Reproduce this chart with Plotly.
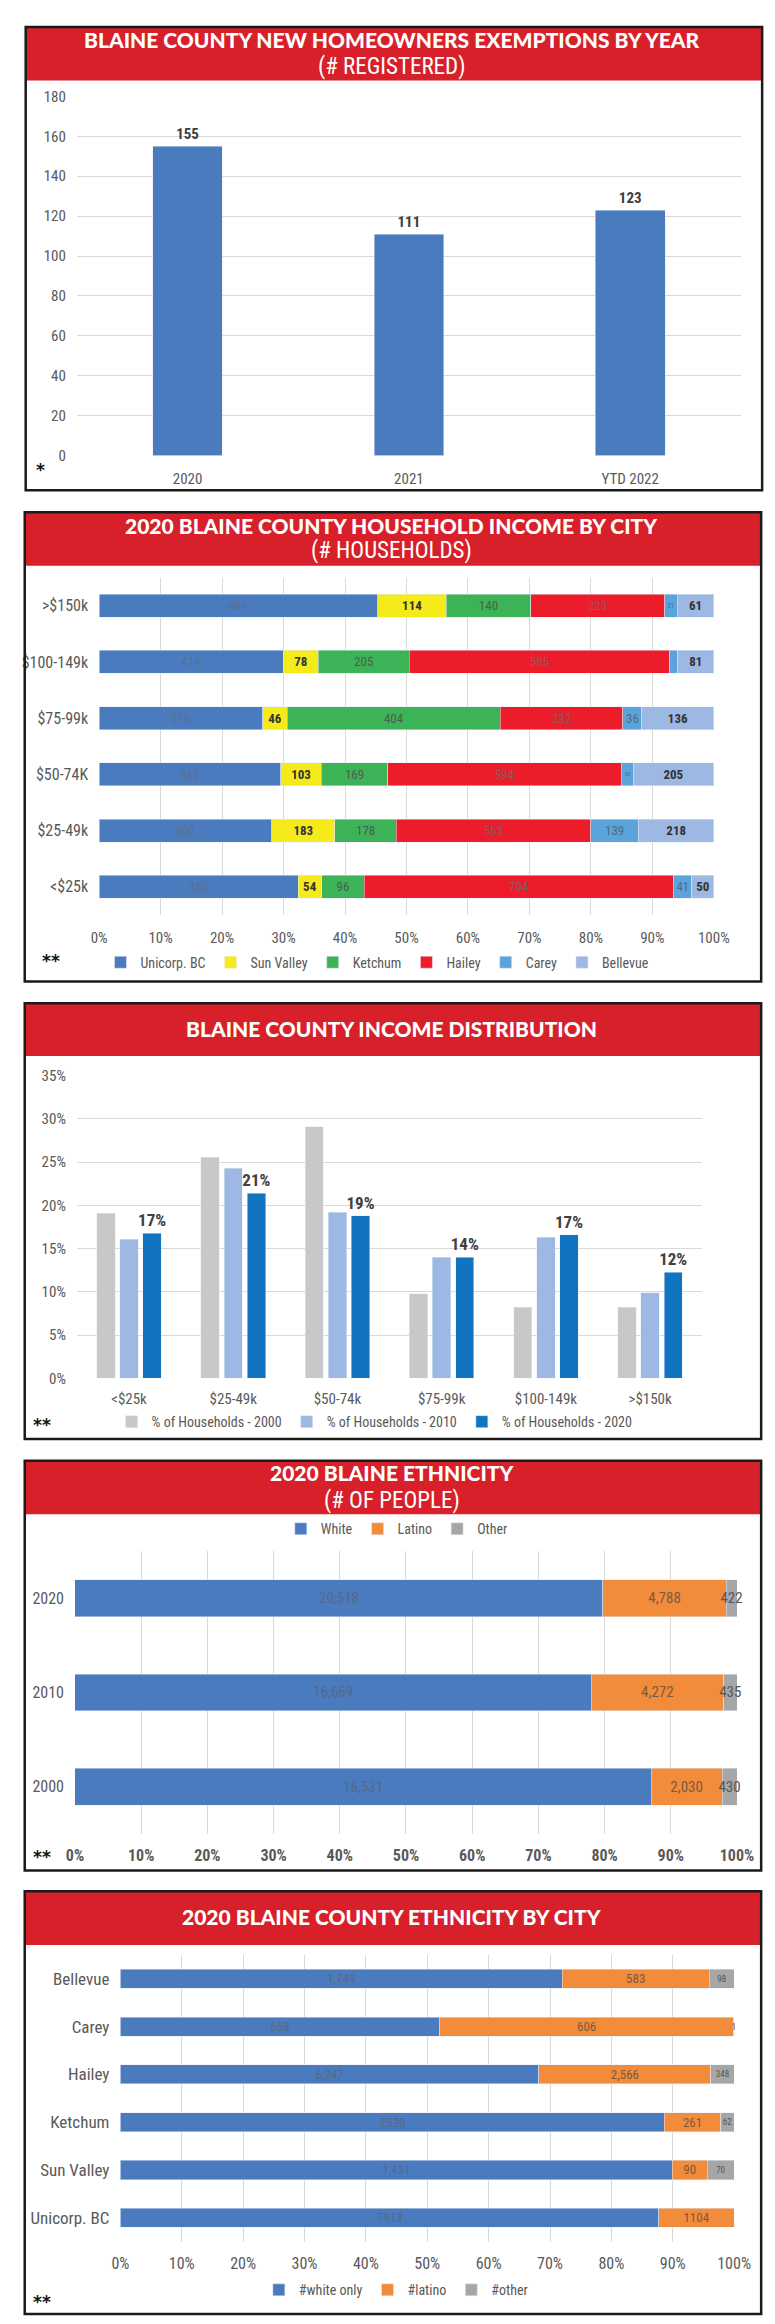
import plotly.graph_objects as go

W, H = 775, 2324

# ---------------- data ----------------
# Panel 1
years = ["2020", "2021", "YTD 2022"]
exemptions = [155, 111, 123]

# Panel 2
income_brackets = [">$150k", "$100-149k", "$75-99k", "$50-74K", "$25-49k", "<$25k"]
cities = ["Unicorp. BC", "Sun Valley", "Ketchum", "Hailey", "Carey", "Bellevue"]
unicorp_bc = [464, 414, 310, 462, 500, 452]
sun_valley = [114, 78, 46, 103, 183, 54]
ketchum = [140, 205, 404, 169, 178, 96]
hailey = [223, 585, 232, 594, 563, 704]
carey = [21, 18, 36, 30, 139, 41]
bellevue = [61, 81, 136, 205, 218, 50]

# Panel 3
dist_brackets = ["<$25k", "$25-49k", "$50-74k", "$75-99k", "$100-149k", ">$150k"]
hh_2000 = [19.1, 25.6, 29.1, 9.8, 8.2, 8.2]
hh_2010 = [16.1, 24.3, 19.2, 14.0, 16.3, 9.9]
hh_2020 = [16.8, 21.4, 18.8, 14.0, 16.6, 12.3]

# Panel 4
census_years = ["2020", "2010", "2000"]
white = [20518, 16669, 16531]
latino = [4788, 4272, 2030]
other = [422, 435, 430]

# Panel 5
eth_cities = ["Bellevue", "Carey", "Hailey", "Ketchum", "Sun Valley", "Unicorp. BC"]
white_only = [1749, 658, 6247, 2520, 1431, 7913]
latino_city = [583, 606, 2566, 261, 90, 1104]
other_city = [98, 1, 348, 62, 70, 0]
white_label_commas = [True, True, True, False, True, False]
latino_label_commas = [True, True, True, True, True, False]

# ---------------- helpers ----------------
FONT = "Liberation Sans Narrow, Arial Narrow, Roboto Condensed, Roboto, sans-serif"
TITLE_FONT = "Lato, Roboto, DejaVu Sans, sans-serif"
GRAY = "#595959"
GRID = "#D9D9D9"
RED = "#D7202A"


def fx(px):
    return px / W


def fy(py):
    return 1 - py / H


def percents(series):
    totals = [sum(v) for v in zip(*series)]
    return [[100 * v / t if t else 0 for v, t in zip(s, totals)] for s in series]


def fmt(v, comma=True):
    if v == 0:
        return ""
    return f"{v:,}" if comma else str(v)


fig = go.Figure()

# ---------------- Panel 1 ----------------
fig.add_trace(go.Bar(
    x=years, y=exemptions, marker_color="#4A7BBF", text=[str(v) for v in exemptions],
    textposition="outside", constraintext="none",
    textfont=dict(family=FONT, size=15, color="#404040", weight="bold"),
    cliponaxis=False, showlegend=False, xaxis="x", yaxis="y", width=0.315,
))

# ---------------- Panel 2 ----------------
p2_series = [unicorp_bc, sun_valley, ketchum, hailey, carey, bellevue]
p2_colors = ["#4A7BBF", "#F5EB1B", "#3CB356", "#EC1C2B", "#5BA3DB", "#9DB8E2"]
p2_textcol = ["#5b6f8e", "#333333", "#4d5e50", "#8a5a5e", "#4d6a85", "#333333"]
p2_bold = [False, True, False, False, False, True]
for name, vals, pcts, col, tcol, b in zip(cities, p2_series, percents(p2_series), p2_colors, p2_textcol, p2_bold):
    fig.add_trace(go.Bar(
        y=income_brackets, x=pcts, orientation="h", name=name, marker_color=col, width=0.41,
        text=[str(v) for v in vals], textposition="inside", insidetextanchor="middle", textangle=0,
        textfont=dict(family=FONT, size=13, color=tcol, weight="bold" if b else "normal"),
        xaxis="x2", yaxis="y2", legend="legend",
    ))

# ---------------- Panel 3 ----------------
p3_series = [hh_2000, hh_2010, hh_2020]
p3_names = ["% of Households - 2000", "% of Households - 2010", "% of Households - 2020"]
p3_colors = ["#C8C8C8", "#9DB8E2", "#1174C1"]
p3_shift = [-0.222, 0.0, 0.222]
idx = list(range(len(dist_brackets)))
for k, (name, vals, col, sh) in enumerate(zip(p3_names, p3_series, p3_colors, p3_shift)):
    fig.add_trace(go.Bar(
        x=[i + sh for i in idx], y=vals, name=name, marker_color=col, width=0.176,
        text=[f"{round(v)}%" for v in vals] if k == 2 else None,
        textposition="outside" if k == 2 else "none", cliponaxis=False, constraintext="none",
        textfont=dict(family=FONT, size=17, color="#404040", weight="bold"),
        xaxis="x3", yaxis="y3", legend="legend2",
    ))

# ---------------- Panel 4 ----------------
p4_series = [white, latino, other]
p4_names = ["White", "Latino", "Other"]
p4_colors = ["#4A7BBF", "#F28B3A", "#A6A6A6"]
p4_tcol = ["#56688a", "#7a5a40", "#555555"]
for name, vals, pcts, col, tcol in zip(p4_names, p4_series, percents(p4_series), p4_colors, p4_tcol):
    fig.add_trace(go.Bar(
        y=census_years, x=pcts, orientation="h", name=name, marker_color=col, width=0.39,
        text=[fmt(v) for v in vals], textposition="inside", insidetextanchor="middle", textangle=0,
        constraintext="none", cliponaxis=False, textfont=dict(family=FONT, size=15, color=tcol),
        xaxis="x4", yaxis="y4", legend="legend3",
    ))

# ---------------- Panel 5 ----------------
p5_series = [white_only, latino_city, other_city]
p5_names = ["#white only", "#latino", "#other"]
p5_texts = [
    [fmt(v, c) for v, c in zip(white_only, white_label_commas)],
    [fmt(v, c) for v, c in zip(latino_city, latino_label_commas)],
    [fmt(v) for v in other_city],
]
p5_tsize = [13, 13, 9]
for name, pcts, txt, col, tcol, ts in zip(p5_names, percents(p5_series), p5_texts, p4_colors, p4_tcol, p5_tsize):
    fig.add_trace(go.Bar(
        y=eth_cities, x=pcts, orientation="h", name=name, marker_color=col, width=0.4,
        text=txt, textposition="inside", insidetextanchor="middle", textangle=0,
        constraintext="none", cliponaxis=False, textfont=dict(family=FONT, size=ts, color=tcol),
        xaxis="x5", yaxis="y5", legend="legend4",
    ))

# ---------------- axes ----------------
tickfont = dict(family=FONT, size=15, color=GRAY)
common_x = dict(showline=False, zeroline=False, ticks="", tickfont=tickfont, fixedrange=True)

fig.update_layout(
    xaxis=dict(domain=[fx(62), fx(749)], type="category", showgrid=False, ticklabelstandoff=12, **common_x),
    yaxis=dict(domain=[fy(442), fy(80)], range=[0, 180], dtick=20, showgrid=True, gridcolor=GRID,
               zeroline=False, tickfont=tickfont, ticklabelstandoff=10, anchor="x"),
    xaxis2=dict(domain=[fx(85), fx(721)], range=[0, 100], dtick=10, ticksuffix="%", showgrid=True,
                gridcolor=GRID, anchor="y2", ticklabelstandoff=12, **common_x),
    yaxis2=dict(domain=[fy(905), fy(565)], type="category", autorange="reversed", showgrid=False,
                zeroline=False, tickfont=dict(family=FONT, size=16, color=GRAY), ticklabelstandoff=10, anchor="x2"),
    xaxis3=dict(domain=[fx(62), fx(709)], range=[-0.5, 5.5], tickvals=idx, ticktext=dist_brackets,
                showgrid=False, anchor="y3", ticklabelstandoff=10, **common_x),
    yaxis3=dict(domain=[fy(1372), fy(1067)], range=[0, 35], dtick=5, ticksuffix="%", showgrid=True,
                gridcolor=GRID, zeroline=False, tickfont=tickfont, ticklabelstandoff=10, anchor="x3"),
    xaxis4=dict(domain=[fx(60), fx(745)], range=[0, 100], dtick=10, ticksuffix="%", showgrid=True,
                gridcolor=GRID, anchor="y4", ticklabelstandoff=10,
                showline=False, zeroline=False, ticks="", fixedrange=True,
                tickfont=dict(family=FONT, size=16, color=GRAY, weight="bold")),
    yaxis4=dict(domain=[fy(1831), fy(1546)], type="category", autorange="reversed", showgrid=False,
                zeroline=False, tickfont=dict(family=FONT, size=16, color=GRAY), ticklabelstandoff=10, anchor="x4"),
    xaxis5=dict(domain=[fx(107), fx(742)], range=[0, 100], dtick=10, ticksuffix="%", showgrid=True,
                gridcolor=GRID, anchor="y5", ticklabelstandoff=10, **{**common_x, "tickfont": dict(family=FONT, size=16, color=GRAY)}),
    yaxis5=dict(domain=[fy(2242), fy(1953)], type="category", autorange="reversed", showgrid=False,
                zeroline=False, tickfont=dict(family=FONT, size=17, color=GRAY), ticklabelstandoff=10, anchor="x5"),
)

legend_common = dict(orientation="h", xanchor="center", yanchor="middle", traceorder="normal",
                     font=dict(family=FONT, size=14, color=GRAY), bgcolor="rgba(0,0,0,0)",
                     itemwidth=30, itemclick=False)
fig.update_layout(
    legend=dict(x=fx(373), y=fy(953), **legend_common),
    legend2=dict(x=fx(370), y=fy(1416), **legend_common),
    legend3=dict(x=fx(393), y=fy(1524), **legend_common),
    legend4=dict(x=fx(392), y=fy(2291), **legend_common),
)

# ---------------- frames, headers, titles ----------------
panels = [  # (left, top, right, bottom, header_bottom)
    (9, 10, 771, 477, 64),
    (8, 499, 770, 972, 553),
    (8, 994, 770, 1433, 1047),
    (8, 1455, 770, 1868, 1509),
    (8, 1889, 770, 2315, 1943),
]
shapes = []
for l, t, r, b, hb in panels:
    shapes.append(dict(type="rect", xref="paper", yref="paper", x0=fx(l), x1=fx(r), y0=fy(hb), y1=fy(t),
                       fillcolor=RED, line=dict(width=0), layer="below"))
    shapes.append(dict(type="rect", xref="paper", yref="paper", x0=fx(l), x1=fx(r), y0=fy(b), y1=fy(t),
                       fillcolor="rgba(0,0,0,0)", line=dict(color="#1a1a1a", width=2.5), layer="above"))

titles = [  # (text, y center, heavy)
    ("BLAINE COUNTY NEW HOMEOWNERS EXEMPTIONS BY YEAR", 23, True),
    ("(# REGISTERED)", 50, False),
    ("2020 BLAINE COUNTY HOUSEHOLD INCOME BY CITY", 512, True),
    ("(# HOUSEHOLDS)", 538, False),
    ("BLAINE COUNTY INCOME DISTRIBUTION", 1019, True),
    ("2020 BLAINE ETHNICITY", 1467, True),
    ("(# OF PEOPLE)", 1495, False),
    ("2020 BLAINE COUNTY ETHNICITY BY CITY", 1914, True),
]
annotations = []
for text, yc, heavy in titles:
    annotations.append(dict(
        text=text, x=fx(388), y=fy(yc), xref="paper", yref="paper", xanchor="center", yanchor="middle",
        showarrow=False,
        font=dict(family=TITLE_FONT, size=21, color="white", weight=900) if heavy
        else dict(family=FONT, size=23, color="white"),
    ))

stars = [("*", 24, 457), ("**", 35, 951), ("**", 26, 1419), ("**", 26, 1854), ("**", 26, 2303)]
for s, x, y in stars:
    annotations.append(dict(text=s, x=fx(x), y=fy(y), xref="paper", yref="paper", xanchor="center",
                            yanchor="middle", showarrow=False,
                            font=dict(family="DejaVu Sans", size=17, color="#111111", weight="bold")))

fig.update_layout(
    width=W, height=H, margin=dict(l=0, r=0, t=0, b=0),
    paper_bgcolor="white", plot_bgcolor="white",
    barmode="stack", shapes=shapes, annotations=annotations,
    font=dict(family=FONT, color=GRAY),
)

fig.write_html("out.html")
